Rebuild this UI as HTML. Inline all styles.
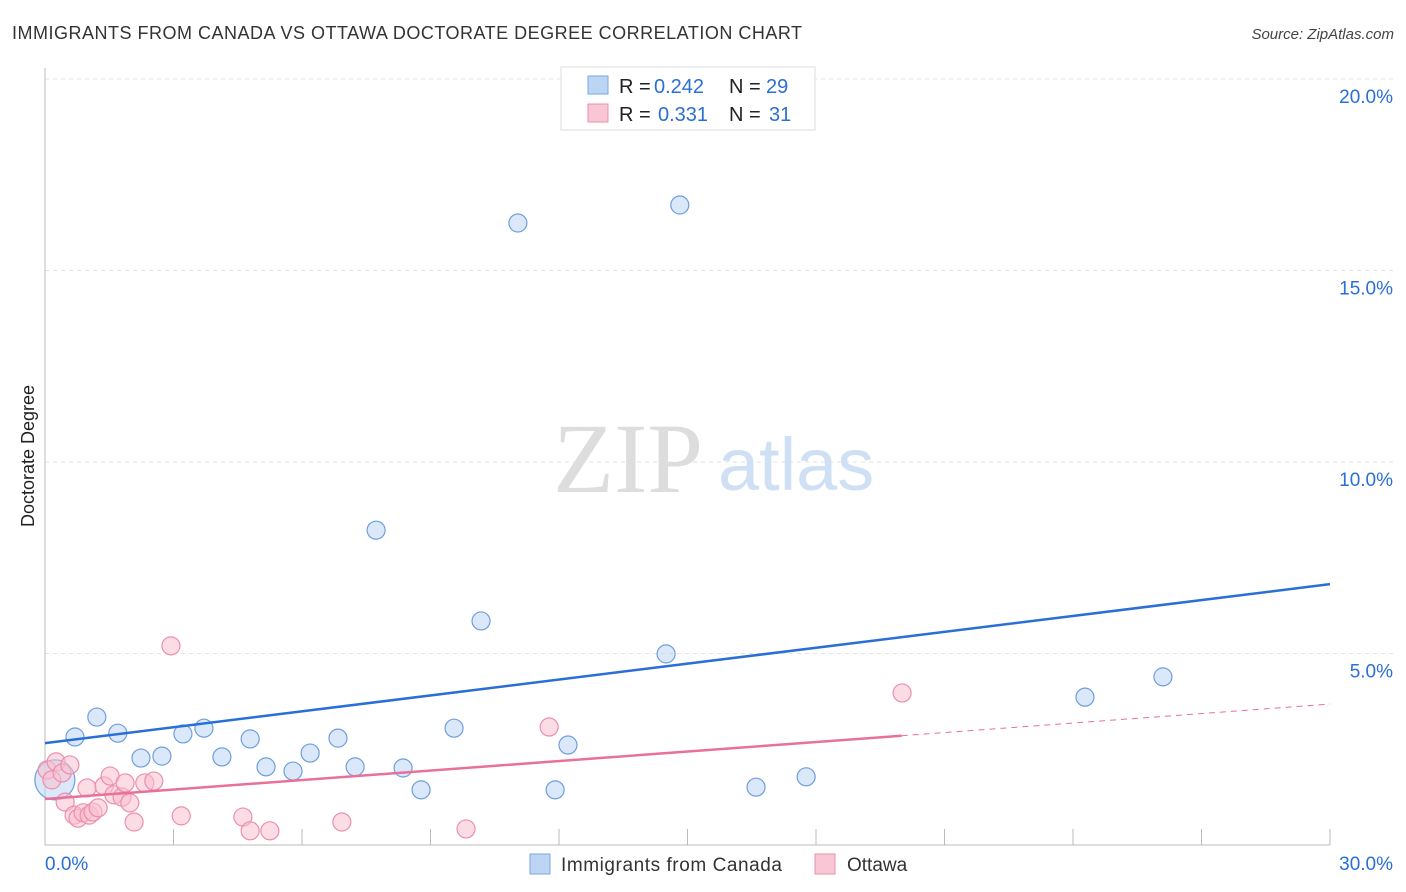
<!DOCTYPE html>
<html><head><meta charset="utf-8"><style>
body{margin:0;background:#fff;font-family:"Liberation Sans",sans-serif}
</style></head><body>
<svg id="c" width="1406" height="892" style="display:block">
<text x="12" y="39" font-size="18" fill="#333" textLength="790" lengthAdjust="spacing">IMMIGRANTS FROM CANADA VS OTTAWA DOCTORATE DEGREE CORRELATION CHART</text>
<text x="1394" y="39" font-size="15" font-style="italic" fill="#444" text-anchor="end">Source: ZipAtlas.com</text>
<text x="34" y="456" font-size="18" fill="#222" text-anchor="middle" transform="rotate(-90 34 456)">Doctorate Degree</text>
<g id="grid"></g>
<text x="553" y="492" font-size="100" font-family="Liberation Serif,serif" fill="#ddd">ZIP</text>
<text x="718" y="490" font-size="74" fill="#cfe0f5">atlas</text>
<g id="marks"></g>
<g>
<rect x="561" y="67" width="254" height="63" fill="#fff" stroke="#ddd"/>
<rect x="588" y="76" width="20" height="18" fill="#bcd5f5" stroke="#7aa6e0"/>
<text x="619" y="93" font-size="20" fill="#222">R = </text><text x="654" y="93" font-size="20" fill="#2a6fd6">0.242</text>
<text x="729" y="93" font-size="20" fill="#222">N = </text><text x="766" y="93" font-size="20" fill="#2a6fd6">29</text>
<rect x="588" y="104" width="20" height="18" fill="#f9c6d5" stroke="#ec8fab"/>
<text x="619" y="121" font-size="20" fill="#222">R = </text><text x="658" y="121" font-size="20" fill="#2a6fd6">0.331</text>
<text x="729" y="121" font-size="20" fill="#222">N = </text><text x="769" y="121" font-size="20" fill="#2a6fd6">31</text>
</g>
<g>
<rect x="530" y="854" width="20" height="20" fill="#bcd5f5" stroke="#7aa6e0"/>
<text x="561" y="871" font-size="19" fill="#333" textLength="221" lengthAdjust="spacing">Immigrants from Canada</text>
<rect x="815" y="854" width="20" height="20" fill="#f9c6d5" stroke="#ec8fab"/>
<text x="847" y="871" font-size="19" fill="#333">Ottawa</text>
</g>
</svg>
<script>
const yTicks=[5,10,15,20];
const xTickVals=[0,3,6,9,12,15,18,21,24,27,30];
const blueX=[0.70,1.21,1.70,2.24,2.73,3.22,3.71,4.13,4.79,5.16,5.79,6.19,6.84,7.24,7.73,8.36,8.78,9.55,10.18,11.04,11.91,12.21,14.50,14.82,16.60,17.77,24.28,26.10,0.23];
const blueY=[2.82,3.34,2.92,2.27,2.32,2.90,3.05,2.30,2.77,2.04,1.93,2.40,2.79,2.04,8.22,2.01,1.44,3.05,5.85,16.24,1.44,2.61,4.99,16.71,1.51,1.78,3.86,4.39,1.70];
const pinkX=[0.05,0.16,0.26,0.40,0.58,0.47,0.68,0.77,0.89,1.03,1.12,1.24,0.98,1.38,1.52,1.61,1.80,1.87,1.98,2.08,2.33,2.54,2.94,3.18,4.62,4.79,5.25,6.93,9.83,11.77,20.01];
const pinkY=[1.96,1.70,2.17,1.88,2.09,1.12,0.78,0.70,0.84,0.78,0.86,0.97,1.49,1.54,1.80,1.31,1.25,1.62,1.10,0.60,1.62,1.67,5.20,0.76,0.73,0.37,0.37,0.60,0.42,3.08,3.97];
const blueTrend=[2.66,6.81];
const pinkTrend=[1.20,3.68];
const pinkSolidEnd=20.0;
const NS='http://www.w3.org/2000/svg';
const sx=v=>45+v/30*1285, sy=v=>845-v/20*766;
function mk(t,a,p){const e=document.createElementNS(NS,t);for(const k in a)e.setAttribute(k,a[k]);p.appendChild(e);return e;}
const g=document.getElementById('grid'),m=document.getElementById('marks');
for(const t of yTicks){
 const l=mk('line',{x1:45,x2:1395,y1:sy(t),y2:sy(t),stroke:'#e2e2e2','stroke-dasharray':'4,4'},g);
 
 
 const tx=mk('text',{x:1393,y:sy(t)+24,'font-size':19,fill:'#2a6fd6','text-anchor':'end'},g);tx.textContent=t.toFixed(1)+'%';
 
 
}
mk('line',{x1:45,x2:45,y1:68,y2:845,stroke:'#bbb'},g);
mk('line',{x1:45,x2:1330,y1:845,y2:845,stroke:'#bbb'},g);
for(const t of xTickVals){
 const l=mk('line',{x1:sx(t),x2:sx(t),y1:829,y2:845,stroke:'#bbb'},g);
 
 
}
const xl=mk('text',{x:45,y:870,'font-size':19,fill:'#2a6fd6'},g);xl.textContent=xTickVals[0].toFixed(1)+'%';


const xr=mk('text',{x:1393,y:870,'font-size':19,fill:'#2a6fd6','text-anchor':'end'},g);xr.textContent=xTickVals[xTickVals.length-1].toFixed(1)+'%';


function pts(X,Y,fill,stroke,name,bigIdx){
 X.forEach((x,i)=>{
  const r=i===bigIdx?20:9;
  const c=mk('circle',{cx:sx(x),cy:sy(Y[i]),r:r,fill:fill,'fill-opacity':0.55,stroke:stroke,'stroke-width':1.2},m);
  
  
 });
}
pts(blueX,blueY,'#bcd5f5','#6f9edc','point-canada',28);
pts(pinkX,pinkY,'#f9c0d0','#ec8fab','point-ottawa',-1);
const bl=mk('line',{x1:sx(0),y1:sy(blueTrend[0]),x2:sx(30),y2:sy(blueTrend[1]),stroke:'#2a6fd6','stroke-width':2.5},m);


const pe=pinkTrend[0]+(pinkTrend[1]-pinkTrend[0])*pinkSolidEnd/30;
const pl=mk('line',{x1:sx(0),y1:sy(pinkTrend[0]),x2:sx(pinkSolidEnd),y2:sy(pe),stroke:'#e8709a','stroke-width':2.5},m);


const pd=mk('line',{x1:sx(pinkSolidEnd),y1:sy(pe),x2:sx(30),y2:sy(pinkTrend[1]),stroke:'#e8709a','stroke-width':1,'stroke-dasharray':'6,5'},m);


</script>
</body></html>
